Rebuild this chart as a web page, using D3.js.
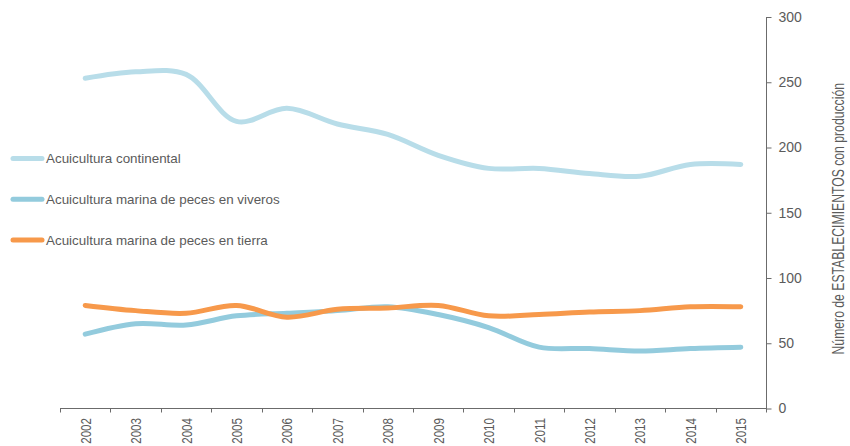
<!DOCTYPE html>
<html>
<head>
<meta charset="utf-8">
<script src="https://cdn.jsdelivr.net/npm/d3@7"></script>
<style>
  html, body { margin: 0; padding: 0; background: #fff; }
  svg { display: block; }
</style>
</head>
<body>
<svg id="chart" width="850" height="446"></svg>
<script>
// Años de la serie
const years = ["2002","2003","2004","2005","2006","2007","2008","2009","2010","2011","2012","2013","2014","2015"];

// Número de establecimientos con producción por tipo de acuicultura
const continental = [253, 258, 256, 220, 230, 218, 210, 194, 184, 184, 180, 178, 187, 187];
const marinaViveros = [57, 65, 64, 71, 73, 75, 78, 72, 62, 47, 46, 44, 46, 47];
const marinaTierra = [79, 75, 73, 79, 70, 76, 77, 79, 71, 72, 74, 75, 78, 78];

const seriesNames = ["Acuicultura continental", "Acuicultura marina de peces en viveros", "Acuicultura marina de peces en tierra"];
const seriesColors = ["#b8dde9", "#93cbdd", "#f7994b"];
const yTicks = [0, 50, 100, 150, 200, 250, 300];
const yTitle = "Número de ESTABLECIMIENTOS con producción";

const series = [continental, marinaViveros, marinaTierra].map((values, i) => ({
  name: seriesNames[i], color: seriesColors[i], values
}));

const svg = d3.select("#chart");
const plotLeft = 60, plotRight = 766, plotTop = 17, plotBottom = 408.5;

const x = d3.scaleBand().domain(years).range([plotLeft, plotRight]).padding(0);
const y = d3.scaleLinear().domain([0, 300]).range([plotBottom, plotTop]);

const textColor = "#5b5b5b";
const axisColor = "#6b6b6b";
const font = "'Liberation Sans', Arial, sans-serif";

// Eje X: línea base, marcas en los límites de cada año y etiquetas giradas
const xAxis = svg.append("g").attr("class", "x-axis");
xAxis.append("line")
  .attr("x1", plotLeft).attr("x2", plotRight)
  .attr("y1", plotBottom).attr("y2", plotBottom)
  .attr("stroke", axisColor).attr("stroke-width", 1);
xAxis.selectAll("line.tick")
  .data(years)
  .join("line")
  .attr("class", "tick")
  .attr("x1", d => Math.round(x(d)) + 0.5).attr("x2", d => Math.round(x(d)) + 0.5)
  .attr("y1", plotBottom).attr("y2", plotBottom + 4)
  .attr("stroke", axisColor);
xAxis.selectAll("text")
  .data(years)
  .join("text")
  .attr("transform", d => `translate(${x(d) + x.bandwidth() / 2 + 5.5},${plotBottom + 9.5}) rotate(-90) scale(0.8,1)`)
  .attr("text-anchor", "end")
  .attr("font-family", font)
  .attr("font-size", 14.5)
  .attr("fill", textColor)
  .text(d => d);

// Eje Y a la derecha
const yAxis = svg.append("g")
  .attr("transform", `translate(${plotRight + 0.5},0)`)
  .call(d3.axisRight(y).tickValues(yTicks).tickSize(5).tickSizeOuter(0).tickPadding(7));
yAxis.select(".domain").remove();
yAxis.append("line")
  .attr("x1", 0).attr("x2", 0)
  .attr("y1", y(300)).attr("y2", plotBottom + 4)
  .attr("stroke", axisColor);
yAxis.selectAll(".tick line").attr("stroke", axisColor);
yAxis.selectAll(".tick text")
  .attr("font-family", font)
  .attr("font-size", 14)
  .attr("fill", textColor);

// Título del eje Y, con letra estrecha
svg.append("text")
  .attr("transform", `translate(844,${(plotTop + plotBottom) / 2 + 6}) rotate(-90) scale(0.74,1)`)
  .attr("text-anchor", "middle")
  .attr("font-family", font)
  .attr("font-size", 16.5)
  .attr("fill", textColor)
  .text(yTitle);

// Líneas suavizadas
const line = d3.line()
  .x((d, i) => x(years[i]) + x.bandwidth() / 2)
  .y(d => y(d))
  .curve(d3.curveCatmullRom.alpha(0.5));

svg.append("g").selectAll("path")
  .data(series)
  .join("path")
  .attr("d", d => line(d.values))
  .attr("fill", "none")
  .attr("stroke", d => d.color)
  .attr("stroke-width", 5)
  .attr("stroke-linecap", "round")
  .attr("stroke-linejoin", "round");

// Leyenda
const legend = svg.append("g").selectAll("g")
  .data(series)
  .join("g")
  .attr("transform", (d, i) => `translate(0,${158.5 + i * 40.8})`);
legend.append("line")
  .attr("x1", 13).attr("x2", 42)
  .attr("stroke", d => d.color)
  .attr("stroke-width", 5)
  .attr("stroke-linecap", "round");
legend.append("text")
  .attr("x", 46)
  .attr("dy", "0.35em")
  .attr("font-family", font)
  .attr("font-size", 13.4)
  .attr("fill", textColor)
  .text(d => d.name);
</script>
</body>
</html>
